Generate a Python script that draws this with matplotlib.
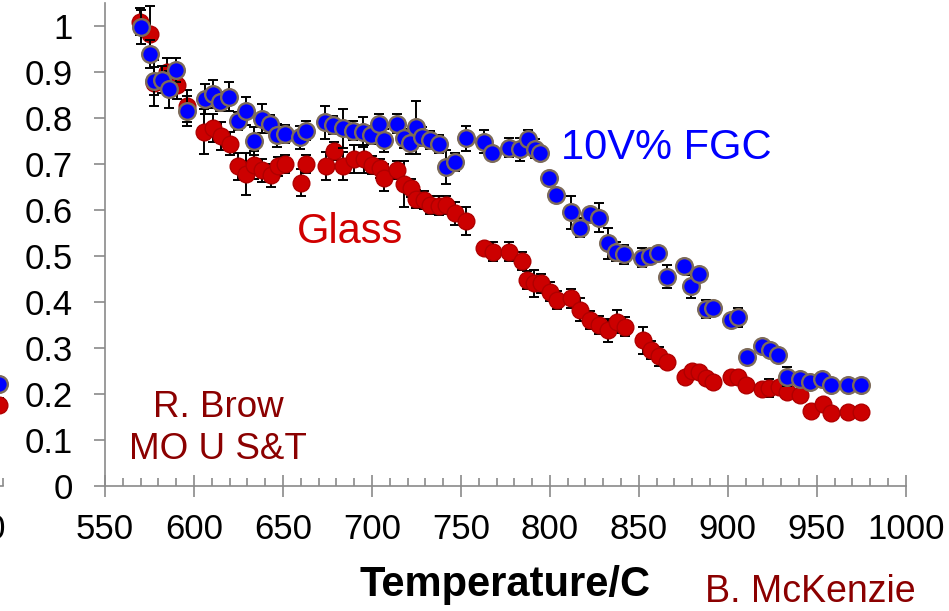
import matplotlib
matplotlib.use("Agg")
import matplotlib.pyplot as plt
from matplotlib.ticker import MultipleLocator, FixedLocator

plt.rcParams['font.family'] = ['Liberation Sans', 'DejaVu Sans']

# 10V% FGC series: temperature (C), normalised value, error
fgc_temp = [570.0, 575.3, 577.7, 581.9, 586.2, 590.0, 596.3, 606.0, 610.9, 614.7,
            619.8, 625.0, 629.0, 634.0, 638.2, 642.8, 646.6, 650.9, 659.7, 663.1,
            673.8, 678.4, 683.7, 689.3, 694.9, 699.4, 703.9, 706.9, 714.1, 717.8,
            721.6, 725.0, 728.1, 732.8, 737.6, 741.8, 746.7, 752.7, 762.8, 767.7,
            776.9, 783.4, 787.5, 791.9, 794.7, 799.4, 803.6, 812.0, 816.8, 822.4,
            827.5, 832.8, 837.1, 841.6, 851.9, 856.2, 860.7, 865.6, 875.3, 879.1,
            883.8, 887.5, 891.6, 901.6, 905.7, 910.6, 919.0, 923.7, 928.2, 933.4,
            940.5, 946.1, 953.1, 958.2, 967.5, 975.0]
fgc_val = [0.997, 0.938, 0.880, 0.883, 0.862, 0.904, 0.815, 0.841, 0.851, 0.835,
           0.846, 0.793, 0.814, 0.750, 0.798, 0.786, 0.762, 0.765, 0.757, 0.772,
           0.790, 0.784, 0.777, 0.772, 0.769, 0.762, 0.787, 0.751, 0.787, 0.755,
           0.746, 0.779, 0.759, 0.752, 0.743, 0.692, 0.704, 0.755, 0.748, 0.723,
           0.735, 0.731, 0.753, 0.733, 0.723, 0.670, 0.632, 0.594, 0.561, 0.591,
           0.583, 0.527, 0.509, 0.503, 0.496, 0.499, 0.505, 0.454, 0.478, 0.434,
           0.460, 0.384, 0.386, 0.360, 0.366, 0.280, 0.304, 0.295, 0.284, 0.237,
           0.233, 0.226, 0.231, 0.220, 0.220, 0.219]
fgc_err = [0.037, 0.030, 0.030, 0.030, 0.040, 0.026, 0.033, 0.032, 0.030, 0.020,
           0.032, 0.020, 0.030, 0.030, 0.031, 0.020, 0.025, 0.020, 0.025, 0.020,
           0.036, 0.020, 0.043, 0.020, 0.033, 0.020, 0.022, 0.025, 0.020, 0.020,
           0.025, 0.058, 0.020, 0.020, 0.020, 0.037, 0.020, 0.027, 0.025, 0.015,
           0.020, 0.025, 0.020, 0.020, 0.010, 0.010, 0.010, 0.036, 0.020, 0.010,
           0.032, 0.034, 0.020, 0.020, 0.020, 0.010, 0.010, 0.025, 0.010, 0.025,
           0.010, 0.020, 0.010, 0.010, 0.020, 0.010, 0.010, 0.010, 0.010, 0.020,
           0.010, 0.010, 0.010, 0.010, 0.010, 0.010]

# Glass series
glass_temp = [569.7, 575.3, 577.6, 584.7, 590.7, 596.0, 605.9, 610.9, 615.0, 620.0,
              625.0, 629.0, 634.0, 638.2, 643.2, 647.0, 651.2, 660.1, 663.1, 674.3,
              678.8, 683.7, 689.7, 695.7, 700.0, 704.3, 706.9, 714.1, 717.8, 722.0,
              725.0, 729.1, 732.8, 737.5, 741.8, 746.9, 752.9, 762.8, 768.0, 776.9,
              784.4, 787.2, 790.9, 795.1, 799.9, 804.1, 811.9, 816.8, 822.8, 827.5,
              832.8, 837.5, 842.0, 852.6, 856.6, 861.2, 865.6, 875.7, 879.7, 883.8,
              887.6, 891.7, 901.6, 905.7, 910.4, 919.1, 923.4, 928.7, 933.4, 940.5,
              946.5, 953.7, 958.2, 967.5, 975.0]
glass_val = [1.009, 0.983, 0.875, 0.900, 0.871, 0.825, 0.770, 0.778, 0.760, 0.743,
             0.694, 0.678, 0.697, 0.686, 0.675, 0.694, 0.699, 0.659, 0.699, 0.695,
             0.728, 0.695, 0.710, 0.710, 0.697, 0.690, 0.670, 0.686, 0.655, 0.647,
             0.623, 0.621, 0.610, 0.609, 0.610, 0.592, 0.576, 0.517, 0.509, 0.509,
             0.489, 0.447, 0.440, 0.440, 0.422, 0.404, 0.407, 0.383, 0.360, 0.349,
             0.338, 0.356, 0.346, 0.316, 0.295, 0.281, 0.270, 0.237, 0.250, 0.248,
             0.235, 0.225, 0.236, 0.236, 0.219, 0.210, 0.212, 0.215, 0.204, 0.197,
             0.163, 0.178, 0.159, 0.161, 0.161]
glass_err = [0.030, 0.060, 0.050, 0.030, 0.030, 0.035, 0.048, 0.030, 0.030, 0.025,
             0.030, 0.046, 0.030, 0.025, 0.025, 0.020, 0.020, 0.030, 0.020, 0.030,
             0.020, 0.030, 0.030, 0.030, 0.020, 0.020, 0.030, 0.020, 0.050, 0.020,
             0.020, 0.020, 0.020, 0.020, 0.020, 0.025, 0.030, 0.010, 0.020, 0.020,
             0.020, 0.020, 0.030, 0.020, 0.020, 0.020, 0.020, 0.025, 0.020, 0.020,
             0.025, 0.025, 0.020, 0.030, 0.020, 0.020, 0.010, 0.010, 0.010, 0.010,
             0.010, 0.010, 0.010, 0.010, 0.010, 0.010, 0.020, 0.010, 0.010, 0.010,
             0.010, 0.010, 0.010, 0.010, 0.010]

# tail of the neighbouring panel (same series, previous sample)
prev_temp = [1018.0, 1018.0]
prev_val = [0.222, 0.175]
prev_err = [0.015, 0.015]

x_ticks = [550, 600, 650, 700, 750, 800, 850, 900, 950, 1000]
y_ticks = [0, 0.1, 0.2, 0.3, 0.4, 0.5, 0.6, 0.7, 0.8, 0.9, 1]
y_labels = ['0', '0.1', '0.2', '0.3', '0.4', '0.5', '0.6', '0.7', '0.8', '0.9', '1']

BLUE, BLUE_EDGE = '#0000FF', '#7d6b5a'
RED, RED_EDGE = '#CC0000', '#B00000'
AXIS_GREY = '#8a8a8a'
DARK_RED = '#8B0000'

W, H = 949, 611
fig = plt.figure(figsize=(W / 100, H / 100), dpi=100)

# main panel geometry in pixels
x0, x1 = 105.0, 905.8
y0, y1 = 485.7, 2.7
ax = fig.add_axes([x0 / W, 1 - y0 / H, (x1 - x0) / W, (y0 - y1) / H])

# neighbouring panel: only its right end is on the canvas
px_per_deg = (x1 - x0) / 450.0
prev_right = 3.0
prev_left = prev_right - px_per_deg * (1020 - 550)
axp = fig.add_axes([prev_left / W, 1 - y0 / H, (prev_right - prev_left) / W, (y0 - y1) / H])


def style_axes(a, xmax, xlabels, show_y):
    a.set_xlim(550, xmax)
    a.set_ylim(0, 1.05)
    for s in ('top', 'right'):
        a.spines[s].set_visible(False)
    for s in ('left', 'bottom'):
        a.spines[s].set_color(AXIS_GREY)
        a.spines[s].set_linewidth(1.2)
    a.xaxis.set_major_locator(FixedLocator(x_ticks))
    a.xaxis.set_minor_locator(MultipleLocator(10))
    a.set_xticklabels(xlabels)
    a.set_yticks(y_ticks)
    a.set_yticklabels(y_labels if show_y else [])
    a.tick_params(axis='x', which='major', direction='inout', length=16, width=1.2,
                  color=AXIS_GREY, labelsize=25, pad=12)
    a.tick_params(axis='x', which='minor', direction='in', length=6, width=1.2,
                  color=AXIS_GREY)
    a.tick_params(axis='y', which='major', direction='out', length=8, width=1.2,
                  color=AXIS_GREY, labelsize=25, pad=15)
    a.patch.set_alpha(0)


def draw_series(a, t, v, e, face, edge, ew, z):
    a.errorbar(t, v, yerr=e, fmt='none', ecolor='black', elinewidth=1.4,
               capsize=3.6, capthick=1.4, zorder=z, clip_on=False)
    a.plot(t, v, linestyle='none', marker='o', markersize=12,
           markerfacecolor=face, markeredgecolor=edge, markeredgewidth=ew,
           zorder=z + 0.5, clip_on=False)


style_axes(ax, 1000, [str(t) for t in x_ticks], True)
# only the last tick label of the neighbouring panel reaches the canvas
style_axes(axp, 1020, [''] * (len(x_ticks) - 1) + [str(x_ticks[-1])], False)

draw_series(ax, glass_temp, glass_val, glass_err, RED, RED_EDGE, 1.0, 3)
draw_series(ax, fgc_temp, fgc_val, fgc_err, BLUE, BLUE_EDGE, 1.7, 5)

draw_series(axp, [prev_temp[1]], [prev_val[1]], [prev_err[1]], RED, RED_EDGE, 1.0, 3)
draw_series(axp, [prev_temp[0]], [prev_val[0]], [prev_err[0]], BLUE, BLUE_EDGE, 1.7, 5)

ax.text(806, 0.734, '10V% FGC', color=BLUE, fontsize=30, ha='left', va='center')
ax.text(658, 0.551, 'Glass', color='#D00000', fontsize=30, ha='left', va='center')
ax.text(613.6, 0.169, 'R. Brow', color=DARK_RED, fontsize=26.5, ha='center', va='center')
ax.text(613.6, 0.078, 'MO U S&T', color=DARK_RED, fontsize=26.5, ha='center', va='center')

ax.set_xlabel('Temperature/C', fontsize=30, fontweight='bold', color='black')
ax.xaxis.set_label_coords(0.5, (y0 - 585) / (y0 - y1))
ax.xaxis.label.set_va('center')

fig.text(810 / W, 1 - 592 / H, 'B. McKenzie', color=DARK_RED, fontsize=27,
         ha='center', va='center')

fig.savefig('out.png', dpi=100)
